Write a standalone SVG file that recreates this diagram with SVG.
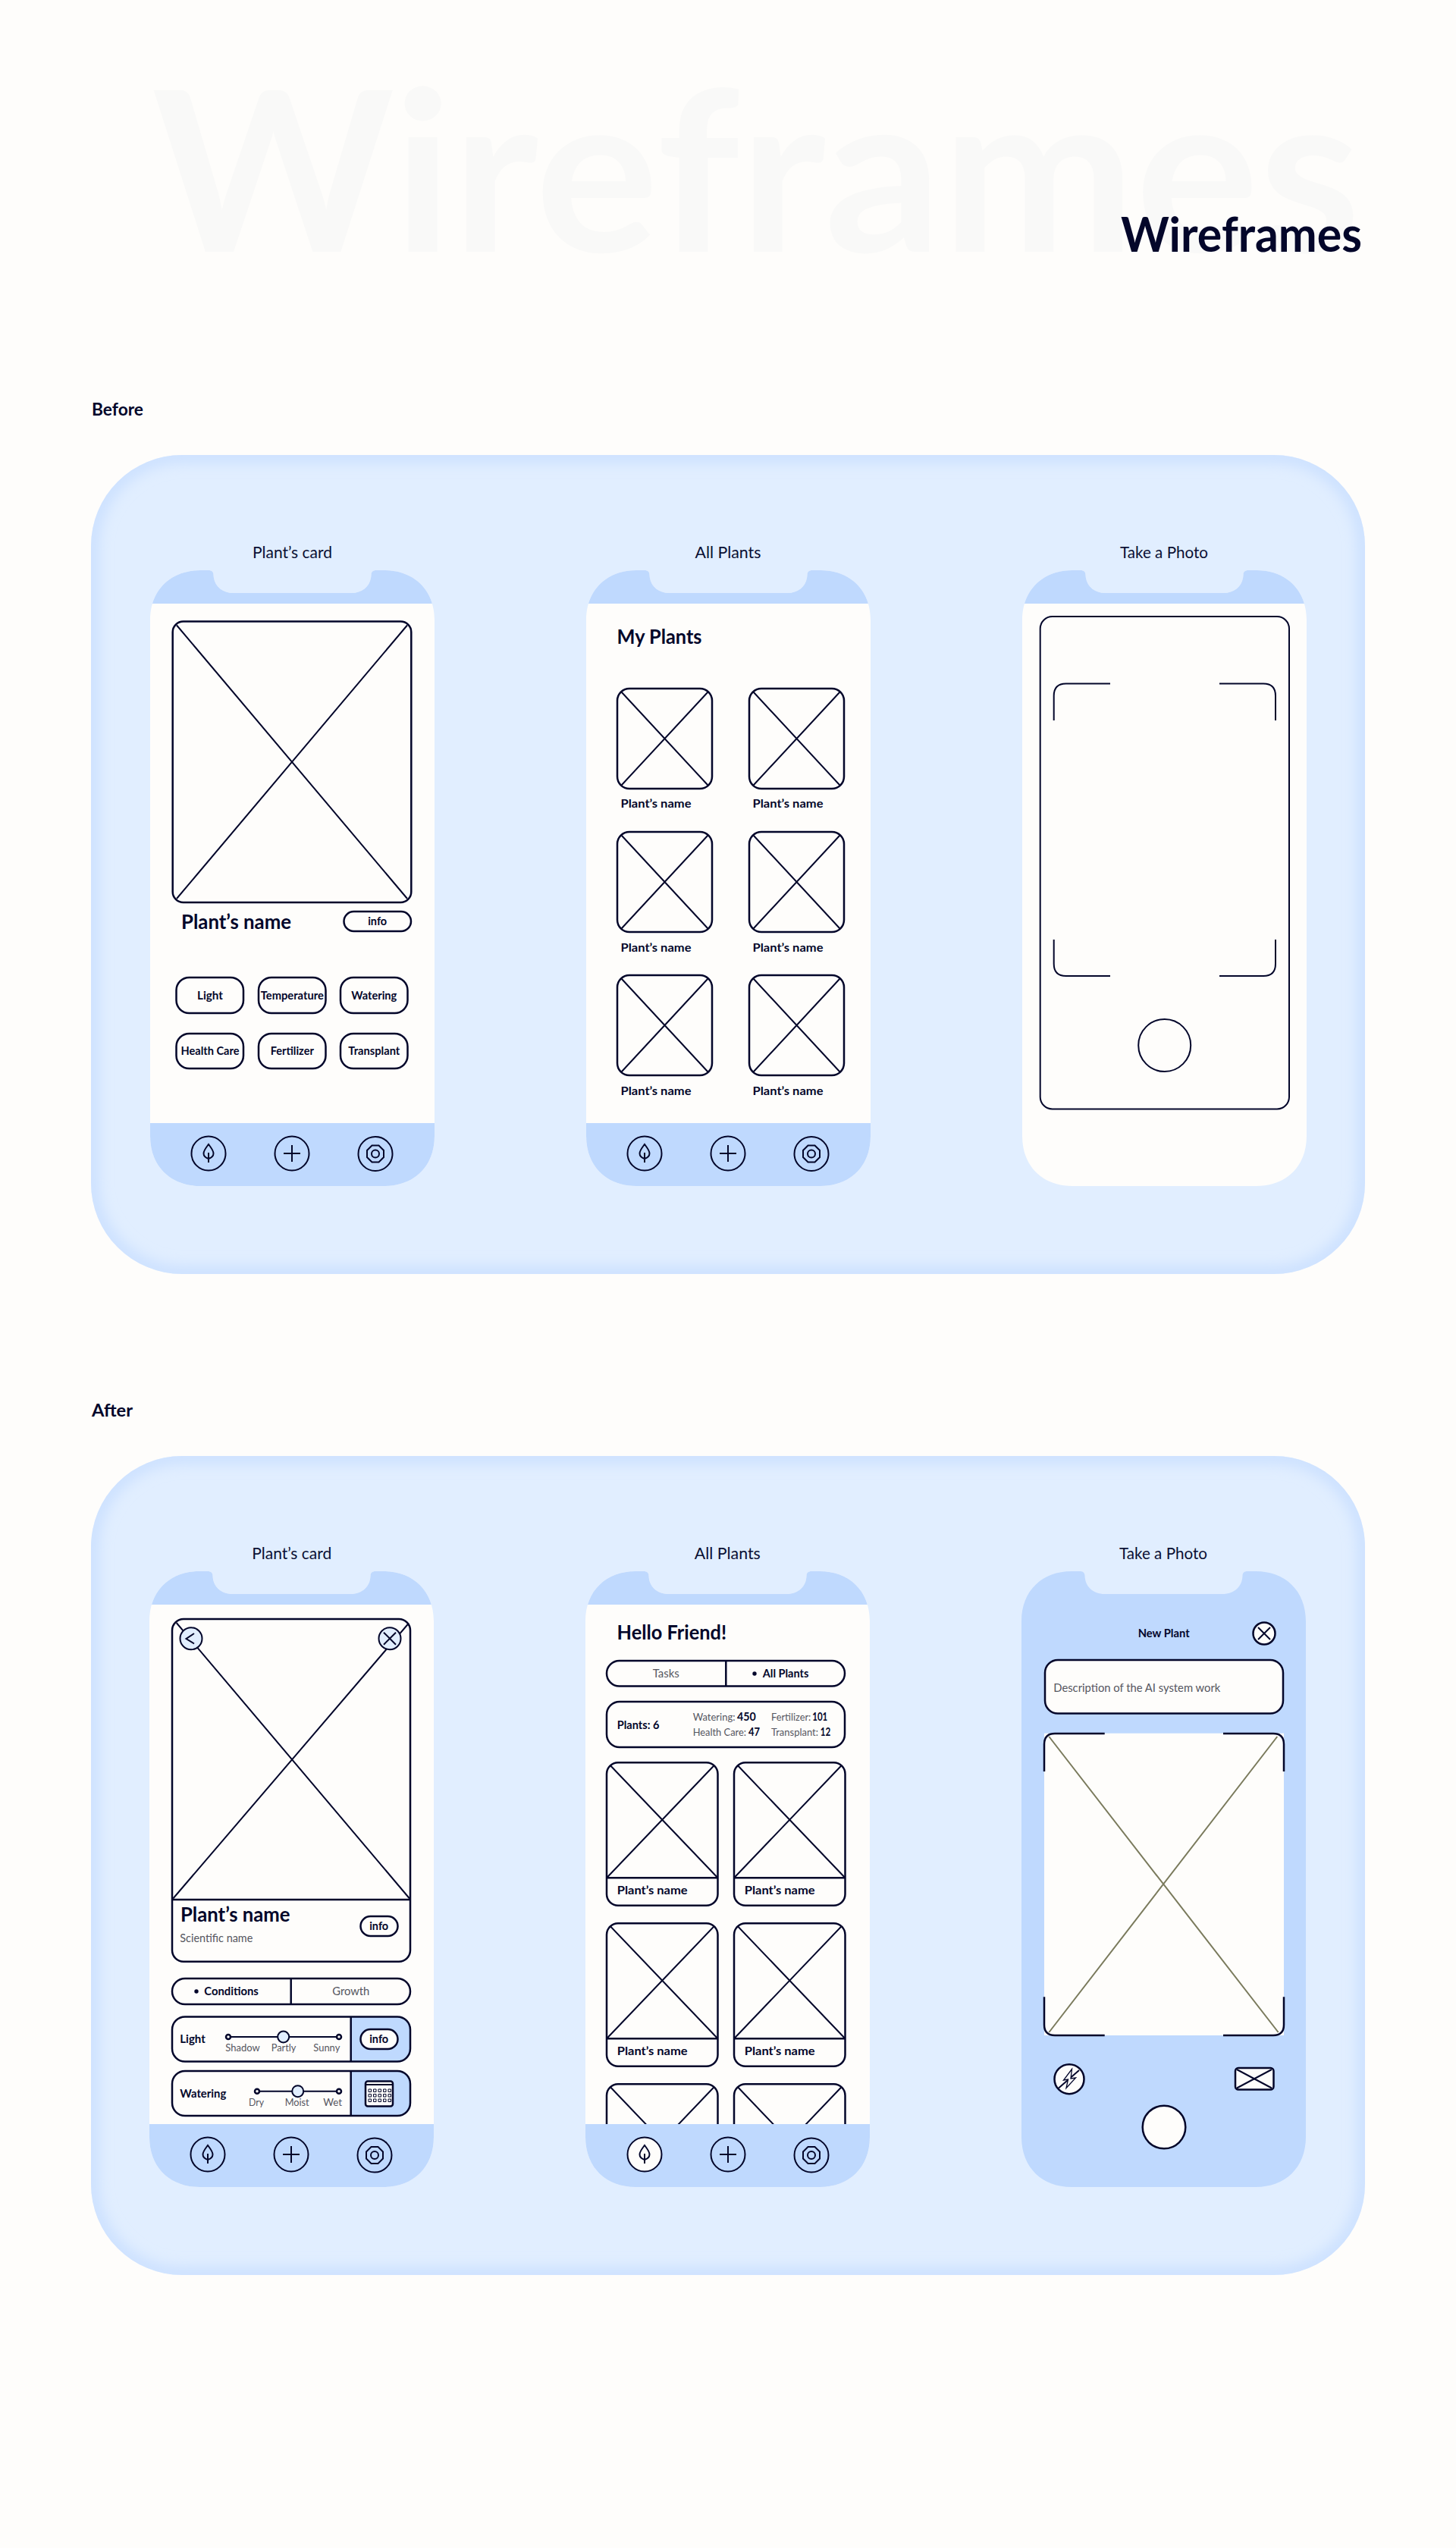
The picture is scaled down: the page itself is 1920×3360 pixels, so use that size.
<svg xmlns="http://www.w3.org/2000/svg" width="1920" height="3360" viewBox="0 0 1920 3360">
<style>
text{font-family:"Lato","Liberation Sans",sans-serif;fill:#03062a}
.caption{font-size:22px;font-weight:400;text-anchor:middle;fill:#0a1034}
.h2{font-size:23px;font-weight:700}
.name{font-size:27px;font-weight:700}
.tag{font-size:15px;font-weight:700;text-anchor:middle}
.tagb{font-size:15.5px;font-weight:700}
.lab{font-size:15.5px;font-weight:700}
.gray{font-size:14px;font-weight:400;fill:#55565f}
.graym{font-size:15.5px;font-weight:400;fill:#55565f}
.ln{fill:none;stroke:#03062a;stroke-width:2.5;stroke-linecap:butt}
.thin{fill:none;stroke:#03062a;stroke-width:2}
.wh{fill:#fefdfb}
.wl{fill:#fefdfb;stroke:#03062a;stroke-width:2.5}
.bl{fill:#bfd9fe}
.pale{fill:#e1eeff;stroke:#03062a;stroke-width:2}
.panel{fill:#e1eeff}
.glow{fill:none;stroke:#cbe0ff;stroke-width:20;filter:url(#blur)}
.dot{fill:#03062a}
</style>
<defs>
<filter id="blur" x="-5%" y="-5%" width="110%" height="110%"><feGaussianBlur stdDeviation="9"/></filter>
<path id="shape" d="M0 66C0 25 28 0 66 0H77C81 0 83.5 2 83.5 6C84 20 94 30 110 30H265C281 30 291 20 291.5 6C291.5 2 294 0 298 0H309C347 0 375 25 375 66V746C375 787 347 812 309 812H66C28 812 0 787 0 746Z"/>
<clipPath id="phoneClip"><use href="#shape"/></clipPath>
<clipPath id="panel1"><rect x="120" y="600" width="1680" height="1080" rx="120"/></clipPath>
<clipPath id="panel2"><rect x="120" y="1920" width="1680" height="1080" rx="120"/></clipPath>
<clipPath id="row3"><rect x="790" y="2740" width="340" height="61"/></clipPath>
<g id="phoneNav"><use href="#shape" class="wh"/><g clip-path="url(#phoneClip)"><rect class="bl" x="0" y="0" width="375" height="44"/><rect class="bl" x="0" y="729" width="375" height="83"/></g></g>
<g id="phoneTop"><use href="#shape" class="wh"/><g clip-path="url(#phoneClip)"><rect class="bl" x="0" y="0" width="375" height="44"/></g></g>
<g id="navLeaf"><circle class="thin" r="22.5"/><path class="thin" d="M0 -12C3 -8 6.5 -4 6.5 0C6.5 3.5 3 6 0 7C-3 6 -6.5 3.5 -6.5 0C-6.5 -4 -3 -8 0 -12ZM0 -1V12"/></g>
<g id="navPlus"><circle class="thin" r="22.5"/><path class="thin" d="M-11 0H11M0 -11V11"/></g>
<g id="navNut"><circle class="thin" r="22.5"/><path class="thin" d="M-4.5 -11H4.5L11 -4.5V4.5L4.5 11H-4.5L-11 4.5V-4.5Z"/><circle class="thin" r="5"/></g>
<g id="tileB"><rect class="ln" x="0" y="0" width="125" height="132" rx="16"/><path class="thin" d="M5 4L120 128M120 4L5 128"/></g>
<g id="tileA"><rect class="ln" x="0" y="0" width="146.5" height="188.4" rx="15"/><path class="ln" d="M0 152H146.5" /><path class="thin" d="M5 4L145.5 151M141.5 4L1 151"/></g>
<g id="closeX"><path class="thin" d="M-8 -8L8 8M8 -8L-8 8"/></g>
</defs>

<rect id="bg" width="1920" height="3360" fill="#fefdfb"/>
<g id="title">
<text x="200" y="332" font-size="295" font-weight="700" textLength="1594" lengthAdjust="spacingAndGlyphs" style="fill:#f9f9f8">Wireframes</text>
<text x="1478" y="332" font-size="64" font-weight="700" textLength="318" lengthAdjust="spacingAndGlyphs">Wireframes</text>
</g>
<text id="label-before" class="h2" x="121" y="548" textLength="68" lengthAdjust="spacingAndGlyphs">Before</text>
<text id="label-after" class="h2" x="121" y="1868" textLength="54" lengthAdjust="spacingAndGlyphs">After</text>

<g id="panel-before"><rect class="panel" x="120" y="600" width="1680" height="1080" rx="120"/><g clip-path="url(#panel1)"><rect class="glow" x="120" y="600" width="1680" height="1080" rx="120"/></g></g>
<g id="panel-after"><rect class="panel" x="120" y="1920" width="1680" height="1080" rx="120"/><g clip-path="url(#panel2)"><rect class="glow" x="120" y="1920" width="1680" height="1080" rx="120"/></g></g>

<g id="before-card">
<text class="caption" x="385.5" y="736" textLength="105" lengthAdjust="spacingAndGlyphs">Plant’s card</text>
<use href="#phoneNav" x="198" y="752"/>
<rect class="ln" x="227.7" y="819.5" width="314.6" height="370.5" rx="14"/>
<path class="thin" d="M233 824.5L537 1185M537 824.5L233 1185"/>
<text class="name" x="239" y="1225" textLength="145" lengthAdjust="spacingAndGlyphs">Plant’s name</text>
<rect class="ln" x="453.5" y="1202" width="88.5" height="26" rx="13"/>
<text class="tag" x="497.7" y="1220" textLength="25" lengthAdjust="spacingAndGlyphs">info</text>
<rect class="ln" x="232.5" y="1289" width="88.5" height="47" rx="17"/><text class="tag" x="277" y="1318" textLength="34" lengthAdjust="spacingAndGlyphs">Light</text>
<rect class="ln" x="341" y="1289" width="88.5" height="47" rx="17"/><text class="tag" x="385.3" y="1318" textLength="83" lengthAdjust="spacingAndGlyphs">Temperature</text>
<rect class="ln" x="449" y="1289" width="88.5" height="47" rx="17"/><text class="tag" x="493.3" y="1318" textLength="60" lengthAdjust="spacingAndGlyphs">Watering</text>
<rect class="ln" x="232.5" y="1363" width="88.5" height="46" rx="17"/><text class="tag" x="277" y="1391" textLength="77" lengthAdjust="spacingAndGlyphs">Health Care</text>
<rect class="ln" x="341" y="1363" width="88.5" height="46" rx="17"/><text class="tag" x="385.3" y="1391" textLength="57" lengthAdjust="spacingAndGlyphs">Fertilizer</text>
<rect class="ln" x="449" y="1363" width="88.5" height="46" rx="17"/><text class="tag" x="493.3" y="1391" textLength="68" lengthAdjust="spacingAndGlyphs">Transplant</text>
<use href="#navLeaf" x="275" y="1521"/><use href="#navPlus" x="385" y="1521"/><use href="#navNut" x="495" y="1521.5"/>
</g>

<g id="before-plants">
<text class="caption" x="960" y="736" textLength="87" lengthAdjust="spacingAndGlyphs">All Plants</text>
<use href="#phoneNav" x="773" y="752"/>
<text class="name" x="813.5" y="849" font-size="26" textLength="112" lengthAdjust="spacingAndGlyphs">My Plants</text>
<use href="#tileB" x="814" y="908"/><use href="#tileB" x="988" y="908"/>
<use href="#tileB" x="814" y="1097"/><use href="#tileB" x="988" y="1097"/>
<use href="#tileB" x="814" y="1286"/><use href="#tileB" x="988" y="1286"/>
<g class="plabels">
<text class="lab" x="818.5" y="1065" textLength="93" lengthAdjust="spacingAndGlyphs">Plant’s name</text><text class="lab" x="992.5" y="1065" textLength="93" lengthAdjust="spacingAndGlyphs">Plant’s name</text>
<text class="lab" x="818.5" y="1254.5" textLength="93" lengthAdjust="spacingAndGlyphs">Plant’s name</text><text class="lab" x="992.5" y="1254.5" textLength="93" lengthAdjust="spacingAndGlyphs">Plant’s name</text>
<text class="lab" x="818.5" y="1443.5" textLength="93" lengthAdjust="spacingAndGlyphs">Plant’s name</text><text class="lab" x="992.5" y="1443.5" textLength="93" lengthAdjust="spacingAndGlyphs">Plant’s name</text>
</g>
<use href="#navLeaf" x="850" y="1521"/><use href="#navPlus" x="960" y="1521"/><use href="#navNut" x="1070" y="1521.5"/>
</g>

<g id="before-photo">
<text class="caption" x="1535" y="736" textLength="116" lengthAdjust="spacingAndGlyphs">Take a Photo</text>
<use href="#phoneTop" x="1348" y="752"/>
<rect class="thin" x="1371.7" y="813" width="328.3" height="649.5" rx="16"/>
<path class="thin" d="M1389.7 950V917.5Q1389.7 901.5 1405.7 901.5H1464M1608 901.5H1666Q1682 901.5 1682 917.5V950M1389.7 1239V1271Q1389.7 1287 1405.7 1287H1464M1608 1287H1666Q1682 1287 1682 1271V1239"/>
<circle class="thin" cx="1535.7" cy="1378.5" r="34.5"/>
</g>

<g id="after-card">
<text class="caption" x="384.7" y="2056" textLength="105" lengthAdjust="spacingAndGlyphs">Plant’s card</text>
<use href="#phoneNav" x="197" y="2072"/>
<rect class="ln" x="227" y="2135" width="314" height="451.7" rx="15"/>
<path class="ln" d="M227 2505H541"/>
<path class="thin" d="M232.7 2140L540 2503.5M539 2140.5L228.3 2503.5"/>
<circle class="pale" cx="252" cy="2160.7" r="14.5"/><path class="thin" d="M256 2154L245.5 2161L256 2167.5"/>
<circle class="pale" cx="514" cy="2160.7" r="14.5"/><use href="#closeX" x="514" y="2160.7"/>
<text class="name" x="238" y="2534" textLength="144.5" lengthAdjust="spacingAndGlyphs">Plant’s name</text>
<text class="graym" x="237.3" y="2561" textLength="96" lengthAdjust="spacingAndGlyphs">Scientific name</text>
<rect class="ln" x="475.5" y="2527" width="49" height="26" rx="13"/><text class="tag" x="499.7" y="2545" textLength="25" lengthAdjust="spacingAndGlyphs">info</text>
<g id="seg-conditions"><rect class="ln" x="227" y="2609" width="314" height="34" rx="17"/><path class="ln" d="M383.7 2609V2643"/><circle class="dot" cx="259" cy="2626" r="2.7"/>
<text class="tagb" x="269.3" y="2631" textLength="71.5" lengthAdjust="spacingAndGlyphs">Conditions</text><text class="graym" x="438.3" y="2631" textLength="49" lengthAdjust="spacingAndGlyphs">Growth</text></g>
<g id="row-light"><path class="bl" d="M462.7 2659.5H524Q541 2659.5 541 2676.5V2701.5Q541 2718.5 524 2718.5H462.7Z"/><rect class="ln" x="227" y="2659.5" width="314" height="59" rx="17"/><path class="ln" d="M462.7 2659.5V2718.5"/>
<text class="lab" x="237.3" y="2694" textLength="33.5" lengthAdjust="spacingAndGlyphs">Light</text>
<path class="thin" d="M301 2686H447"/><circle class="wl" cx="301" cy="2686" r="3"/><circle class="wl" cx="447" cy="2686" r="3"/><circle class="pale" cx="373.7" cy="2686" r="7.5"/>
<text class="gray" x="297.3" y="2705" textLength="45.5" lengthAdjust="spacingAndGlyphs">Shadow</text><text class="gray" x="357.7" y="2705" textLength="32.7" lengthAdjust="spacingAndGlyphs">Partly</text><text class="gray" x="413.3" y="2705" textLength="35" lengthAdjust="spacingAndGlyphs">Sunny</text>
<rect class="wl" x="475.5" y="2676" width="49" height="26" rx="13"/><text class="tag" x="499.7" y="2694" textLength="25" lengthAdjust="spacingAndGlyphs">info</text></g>
<g id="row-watering"><path class="bl" d="M462.7 2731H524Q541 2731 541 2748V2773Q541 2790 524 2790H462.7Z"/><rect class="ln" x="227" y="2731" width="314" height="59" rx="17"/><path class="ln" d="M462.7 2731V2790"/>
<text class="lab" x="237.3" y="2766" textLength="61" lengthAdjust="spacingAndGlyphs">Watering</text>
<path class="thin" d="M339 2757.7H447"/><circle class="wl" cx="339" cy="2757.7" r="3"/><circle class="wl" cx="447" cy="2757.7" r="3"/><circle class="pale" cx="392.7" cy="2757.7" r="7.5"/>
<text class="gray" x="328" y="2776.7" textLength="20" lengthAdjust="spacingAndGlyphs">Dry</text><text class="gray" x="375.7" y="2776.7" textLength="32" lengthAdjust="spacingAndGlyphs">Moist</text><text class="gray" x="426.3" y="2776.7" textLength="24.7" lengthAdjust="spacingAndGlyphs">Wet</text>
<g id="calendar"><rect class="wl" x="482" y="2744.5" width="36" height="33" rx="3"/><path class="thin" d="M482 2749H518"/>
<path stroke="#03062a" stroke-width="1" fill="none" d="M486 2755h3.5v3.5h-3.5zM492.5 2755h3.5v3.5h-3.5zM499 2755h3.5v3.5h-3.5zM505.5 2755h3.5v3.5h-3.5zM512 2755h3.5v3.5h-3.5zM486 2761.5h3.5v3.5h-3.5zM492.5 2761.5h3.5v3.5h-3.5zM499 2761.5h3.5v3.5h-3.5zM505.5 2761.5h3.5v3.5h-3.5zM512 2761.5h3.5v3.5h-3.5zM486 2768h3.5v3.5h-3.5zM492.5 2768h3.5v3.5h-3.5zM499 2768h3.5v3.5h-3.5zM505.5 2768h3.5v3.5h-3.5zM512 2768h3.5v3.5h-3.5z"/></g></g>
<use href="#navLeaf" x="274" y="2841"/><use href="#navPlus" x="384" y="2841"/><use href="#navNut" x="494" y="2842"/>
</g>

<g id="after-plants">
<text class="caption" x="959.3" y="2056" textLength="87" lengthAdjust="spacingAndGlyphs">All Plants</text>
<use href="#phoneNav" x="772" y="2072"/>
<text class="name" x="813.5" y="2162" font-size="26" textLength="144.5" lengthAdjust="spacingAndGlyphs">Hello Friend!</text>
<g id="seg-plants"><rect class="ln" x="800" y="2190" width="314" height="33.5" rx="16.7"/><path class="ln" d="M957.3 2190V2223.5"/><text class="graym" x="860.7" y="2212" textLength="35" lengthAdjust="spacingAndGlyphs">Tasks</text><circle class="dot" cx="995" cy="2207" r="2.7"/><text class="tagb" x="1005.7" y="2212" textLength="60.7" lengthAdjust="spacingAndGlyphs">All Plants</text></g>
<g id="stats"><rect class="ln" x="800" y="2244" width="314" height="60" rx="17"/>
<text class="lab" x="813.7" y="2280" textLength="55.7" lengthAdjust="spacingAndGlyphs">Plants: 6</text>
<text class="gray" x="913.7" y="2268.7" textLength="55.7" lengthAdjust="spacingAndGlyphs">Watering:</text><text class="lab" x="972" y="2268.7" textLength="24.7" lengthAdjust="spacingAndGlyphs">450</text>
<text class="gray" x="1017" y="2268.7" textLength="52.3" lengthAdjust="spacingAndGlyphs">Fertilizer:</text><text class="lab" x="1071.3" y="2268.7" textLength="20" lengthAdjust="spacingAndGlyphs">101</text>
<text class="gray" x="913.7" y="2289.3" textLength="70.3" lengthAdjust="spacingAndGlyphs">Health Care:</text><text class="lab" x="987" y="2289.3" textLength="15" lengthAdjust="spacingAndGlyphs">47</text>
<text class="gray" x="1017" y="2289.3" textLength="62" lengthAdjust="spacingAndGlyphs">Transplant:</text><text class="lab" x="1081.7" y="2289.3" textLength="13.5" lengthAdjust="spacingAndGlyphs">12</text></g>
<use href="#tileA" x="800" y="2324.3"/><use href="#tileA" x="968" y="2324.3"/>
<text class="lab" x="813.7" y="2497.7" textLength="93" lengthAdjust="spacingAndGlyphs">Plant’s name</text><text class="lab" x="981.7" y="2497.7" textLength="93" lengthAdjust="spacingAndGlyphs">Plant’s name</text>
<use href="#tileA" x="800" y="2536.3"/><use href="#tileA" x="968" y="2536.3"/>
<text class="lab" x="813.7" y="2709.7" textLength="93" lengthAdjust="spacingAndGlyphs">Plant’s name</text><text class="lab" x="981.7" y="2709.7" textLength="93" lengthAdjust="spacingAndGlyphs">Plant’s name</text>
<g clip-path="url(#row3)"><use href="#tileA" x="800" y="2748.3"/><use href="#tileA" x="968" y="2748.3"/></g>
<circle class="wh" cx="850" cy="2841" r="22.5"/>
<use href="#navLeaf" x="850" y="2841"/><use href="#navPlus" x="960" y="2841"/><use href="#navNut" x="1070" y="2842"/>
</g>

<g id="after-photo">
<text class="caption" x="1534" y="2056" textLength="116" lengthAdjust="spacingAndGlyphs">Take a Photo</text>
<use href="#shape" class="bl" x="1347" y="2072"/>
<text class="tagb" x="1534.7" y="2159" text-anchor="middle" textLength="68" lengthAdjust="spacingAndGlyphs">New Plant</text>
<circle class="wl" cx="1667" cy="2154" r="14.5"/><use href="#closeX" x="1667" y="2154"/>
<rect class="wl" x="1378" y="2189" width="314" height="70.5" rx="17"/>
<text class="graym" x="1389.3" y="2231" textLength="220" lengthAdjust="spacingAndGlyphs">Description of the AI system work</text>
<rect class="wh" x="1377" y="2285.7" width="316" height="398.3"/>
<path fill="none" stroke="#7a7a5c" stroke-width="2" d="M1383.3 2290L1685.7 2680M1684.3 2290L1383.3 2680"/>
<path class="ln" d="M1377 2336V2300Q1377 2286 1391 2286H1456.7M1613 2286H1679Q1693 2286 1693 2300V2336M1377 2633.3V2670Q1377 2684 1391 2684H1456.7M1613 2684H1679Q1693 2684 1693 2670V2633.3"/>
<g id="flash"><circle class="wl" cx="1410" cy="2741.7" r="19.5"/><path class="thin" d="M1396 2753.5L1423 2730"/><path class="wh" stroke="#03062a" stroke-width="1.3" d="M1413.5 2728.5L1402.5 2743L1408.5 2742L1406 2753.5L1418.5 2740L1412 2741Z"/></g>
<g id="thumb"><rect class="wl" x="1629" y="2727" width="50.5" height="28.5" rx="4"/><path class="thin" d="M1631 2729L1677 2753.5M1677 2729L1631 2753.5"/></g>
<circle class="wl" cx="1535" cy="2805" r="28.3"/>
</g>
</svg>
